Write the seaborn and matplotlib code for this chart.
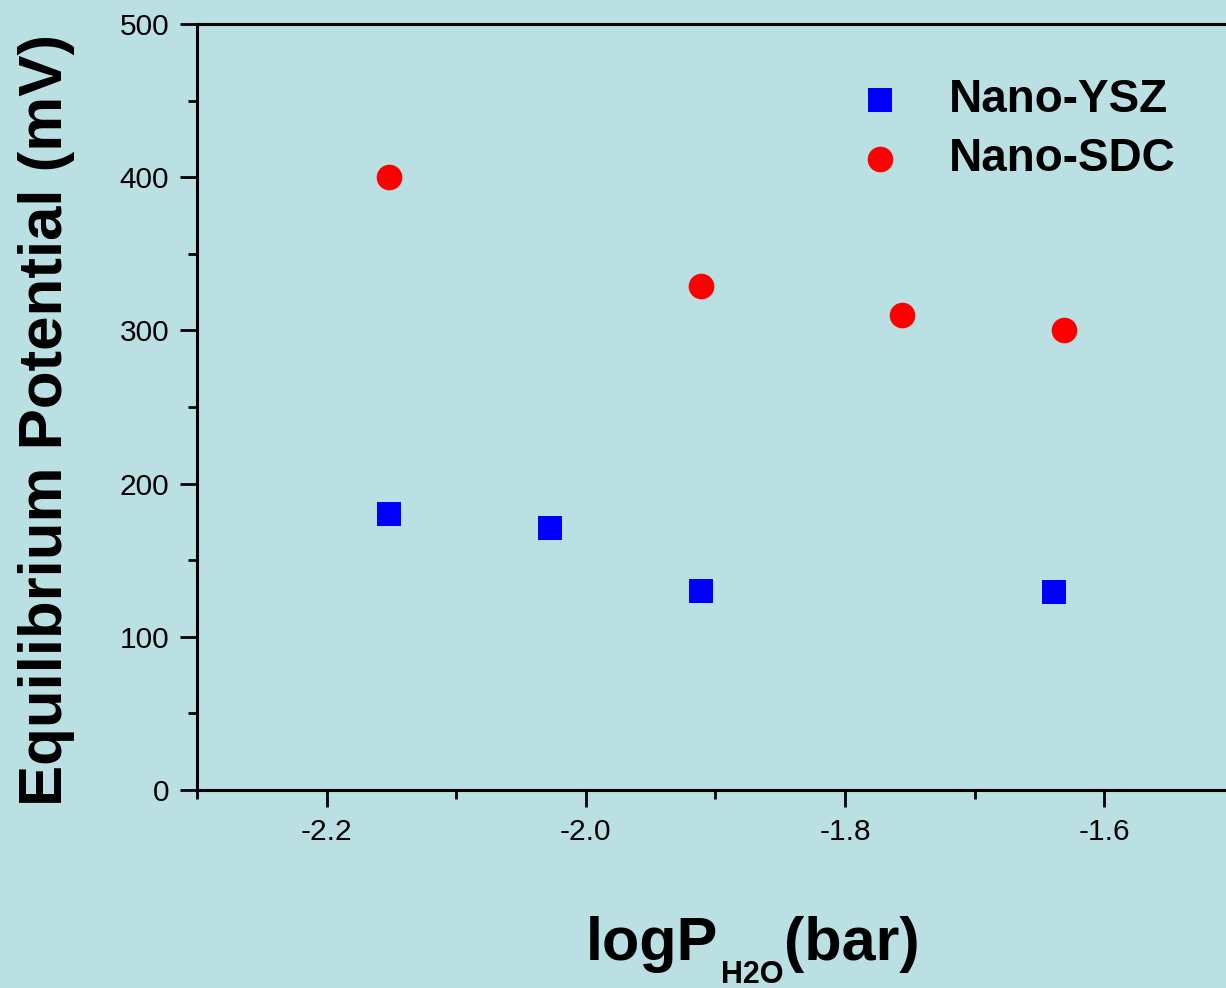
import numpy as np
import pandas as pd
import matplotlib
matplotlib.use("Agg")
import matplotlib.pyplot as plt
from matplotlib.ticker import MultipleLocator, FormatStrFormatter
import seaborn as sns

# данные
ysz_x = [-2.152, -2.028, -1.911, -1.639]
ysz_y = [180, 171, 130, 129]
sdc_x = [-2.152, -1.911, -1.756, -1.631]
sdc_y = [400, 329, 310, 300]
labels = ["Nano-YSZ", "Nano-SDC"]

BG = "#bae0e3"
W, H = 1226, 988

ysz = pd.DataFrame({"x": ysz_x, "y": ysz_y})
sdc = pd.DataFrame({"x": sdc_x, "y": sdc_y})

sns.set_style("ticks")
plt.rcParams["font.family"] = ["Liberation Sans", "DejaVu Sans"]
plt.rcParams["axes.unicode_minus"] = False
for k in ["text.color", "axes.labelcolor", "xtick.color", "ytick.color", "axes.edgecolor"]:
    plt.rcParams[k] = "black"

fig = plt.figure(figsize=(W / 100, H / 100), dpi=100, facecolor=BG)
# ось уходит чуть за правый край картинки (обрезка как в оригинале)
AX_W = 1234 - 197
ax = fig.add_axes([197 / W, 1 - 790 / H, AX_W / W, (790 - 24) / H])
ax.set_facecolor(BG)

sns.scatterplot(data=ysz, x="x", y="y", marker="s", color="#0000ff", s=290,
                linewidth=0, label=labels[0], ax=ax)
sns.scatterplot(data=sdc, x="x", y="y", marker="o", color="#ff0000", s=340,
                linewidth=0, label=labels[1], ax=ax)

ax.set_xlim(-2.3, -1.5)
ax.set_ylim(0, 500)
ax.xaxis.set_major_locator(MultipleLocator(0.2))
ax.xaxis.set_minor_locator(MultipleLocator(0.1))
ax.xaxis.set_major_formatter(FormatStrFormatter("%.1f"))
ax.yaxis.set_major_locator(MultipleLocator(100))
ax.yaxis.set_minor_locator(MultipleLocator(50))

for side in ["left", "bottom", "top"]:
    ax.spines[side].set_linewidth(2.2)
ax.spines["right"].set_visible(False)

ax.tick_params(which="major", direction="out", length=12, width=2, labelsize=21.5, pad=8)
ax.tick_params(which="minor", direction="out", length=6.5, width=2)
ax.tick_params(top=False, right=False)

ax.set_xlabel("")
ax.set_ylabel("Equilibrium Potential (mV)", fontsize=44.5, fontweight="bold")
ax.yaxis.set_label_coords((75 - 197) / AX_W, (790 - 420) / 766)

# подпись оси X: logP + подстрочный H2O + (bar)
renderer = fig.canvas.get_renderer()
base = 28 / H
t1 = fig.text(586 / W, base, "logP", fontsize=44, fontweight="bold", va="baseline")
bb = t1.get_window_extent(renderer)
t2 = fig.text(bb.x1 / W + 3 / W, base - 23 / H, "H2O", fontsize=22, fontweight="bold", va="baseline")
bb2 = t2.get_window_extent(renderer)
fig.text(bb2.x1 / W, base, "(bar)", fontsize=44, fontweight="bold", va="baseline")

ax.legend(loc="upper left", bbox_to_anchor=((857 - 197) / AX_W, 1 - (78 - 24) / 766),
          frameon=False, prop={"weight": "bold", "size": 33}, handlelength=1,
          handletextpad=1.0, borderpad=0, borderaxespad=0, labelspacing=0.33)

fig.savefig("out.png", dpi=100, facecolor=BG)
